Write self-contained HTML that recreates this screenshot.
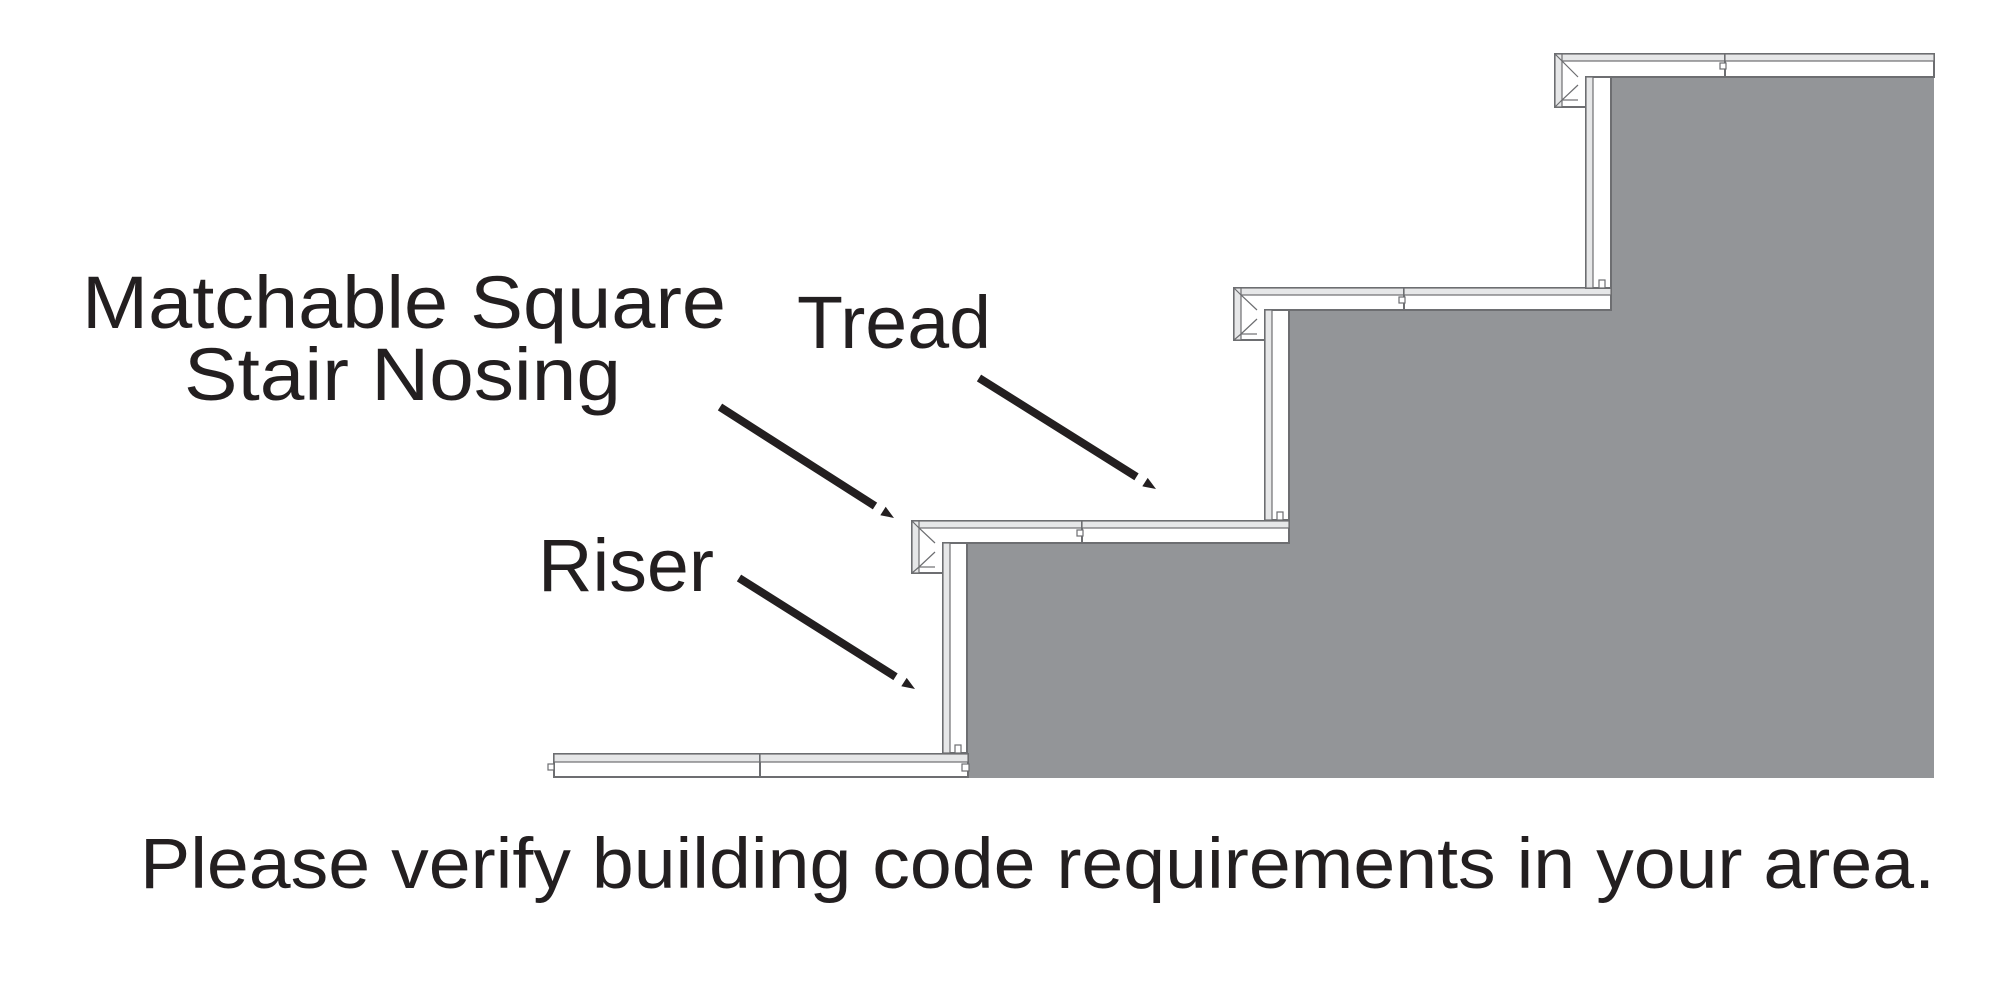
<!DOCTYPE html>
<html><head><meta charset="utf-8"><style>html,body{margin:0;padding:0;background:#fff}svg{display:block}</style></head>
<body>
<svg width="2000" height="1007" viewBox="0 0 2000 1007" xmlns="http://www.w3.org/2000/svg">
<defs>
<g id="step" stroke="#6d6e71">
  <polygon points="0,0 170,0 170,22 31,22 31,52 0,52" fill="#fff" stroke-width="2"/>
  <rect x="0" y="0" width="170" height="7" fill="#e6e7e8" stroke-width="1.2"/>
  <rect x="0" y="0" width="7" height="52" fill="#e6e7e8" stroke-width="1.2"/>
  <polyline points="0,0 7,7 23,22" fill="none" stroke-width="1.2"/>
  <polyline points="0,52 7,46 23,31" fill="none" stroke-width="1.2"/>
  <polyline points="7,46 23,46" fill="none" stroke-width="1.2"/>
  <rect x="170" y="0" width="207" height="22" fill="#fff" stroke-width="2"/>
  <rect x="170" y="0" width="207" height="7" fill="#e6e7e8" stroke-width="1.2"/>
  <rect x="165" y="9" width="6" height="6" fill="#fff" stroke-width="1.2"/>
  <rect x="31" y="22" width="24" height="210" fill="#fff" stroke-width="2"/>
  <rect x="31" y="22" width="7" height="210" fill="#e6e7e8" stroke-width="1.2"/>
  <rect x="43" y="224" width="6" height="8" fill="#fff" stroke-width="1.2"/>
</g>
</defs>
<polygon points="967,543 1289,543 1289,310 1611,310 1611,77 1934,77 1934,778 967,778" fill="#939598"/>
<g stroke="#6d6e71">
<rect x="554" y="754" width="206" height="23" fill="#fff" stroke-width="2"/>
<rect x="554" y="754" width="206" height="8" fill="#e6e7e8" stroke-width="1.2"/>
<rect x="548" y="764" width="6" height="6" fill="#fff" stroke-width="1.2"/>
<rect x="760" y="754" width="208" height="23" fill="#fff" stroke-width="2"/>
<rect x="760" y="754" width="208" height="8" fill="#e6e7e8" stroke-width="1.2"/>
<rect x="962" y="764" width="7" height="7" fill="#fff" stroke-width="1.2"/>
</g>
<use href="#step" transform="translate(912,521)"/>
<use href="#step" transform="translate(1234,288)"/>
<g transform="translate(1555,54)" stroke="#6d6e71">
  <polygon points="0,0 170,0 170,23 31,23 31,53 0,53" fill="#fff" stroke-width="2"/>
  <rect x="0" y="0" width="170" height="7" fill="#e6e7e8" stroke-width="1.2"/>
  <rect x="0" y="0" width="7" height="53" fill="#e6e7e8" stroke-width="1.2"/>
  <polyline points="0,0 7,7 23,23" fill="none" stroke-width="1.2"/>
  <polyline points="0,53 7,46 23,31" fill="none" stroke-width="1.2"/>
  <polyline points="7,46 23,46" fill="none" stroke-width="1.2"/>
  <rect x="170" y="0" width="209" height="23" fill="#fff" stroke-width="2"/>
  <rect x="170" y="0" width="209" height="7" fill="#e6e7e8" stroke-width="1.2"/>
  <rect x="165" y="9" width="6" height="6" fill="#fff" stroke-width="1.2"/>
  <rect x="31" y="23" width="25" height="211" fill="#fff" stroke-width="2"/>
  <rect x="31" y="23" width="7" height="211" fill="#e6e7e8" stroke-width="1.2"/>
  <rect x="44" y="226" width="6" height="8" fill="#fff" stroke-width="1.2"/>
</g>
<g stroke="#231f20" stroke-width="8" stroke-linecap="butt">
  <line x1="720" y1="407" x2="875" y2="506"/>
  <line x1="979" y1="378" x2="1136.5" y2="476.8"/>
  <line x1="739" y1="578" x2="895.5" y2="676.7"/>
</g>
<g fill="#231f20">
  <polygon points="880.3,515.2 885.7,506.8 894,518"/>
  <polygon points="1142.3,486.3 1147.7,477.9 1156,489"/>
  <polygon points="901.3,686.3 906.7,677.9 915,689"/>
</g>
<g font-family="Liberation Sans, sans-serif" fill="#231f20" font-size="74">
  <text x="82" y="328" textLength="644" lengthAdjust="spacingAndGlyphs">Matchable Square</text>
  <text x="184" y="400" textLength="437" lengthAdjust="spacingAndGlyphs">Stair Nosing</text>
  <text x="797" y="348" textLength="194" lengthAdjust="spacingAndGlyphs">Tread</text>
  <text x="538" y="591" textLength="176" lengthAdjust="spacingAndGlyphs">Riser</text>
  <text x="140" y="888" font-size="71" textLength="1795" lengthAdjust="spacingAndGlyphs">Please verify building code requirements in your area.</text>
</g>
</svg>
</body></html>
